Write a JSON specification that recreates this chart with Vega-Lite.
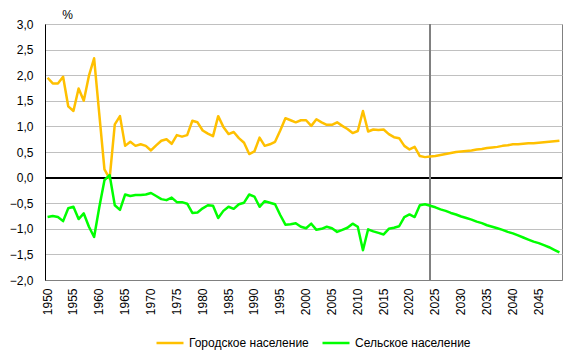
{
  "$schema": "https://vega.github.io/schema/vega-lite/v6.json",
  "autosize": "none",
  "width": 517,
  "height": 256,
  "padding": {"left": 45, "top": 24, "right": 13, "bottom": 77},
  "background": "white",
  "config": {
    "font": "Liberation Sans",
    "view": {"stroke": "#808080", "strokeWidth": 1},
    "axis": {"labelFontSize": 12, "labelColor": "black", "ticks": false},
    "axisX": {"domainColor": "#808080", "grid": false, "labelAngle": -90, "labelAlign": "right", "labelBaseline": "middle", "labelPadding": 8},
    "axisY": {"domainColor": "black", "grid": true, "gridColor": "#c0c0c0", "gridWidth": 1, "labelPadding": 12}
  },
  "data": {
    "values": [
      {"year":1950,"Городское население":1.95,"Сельское население":-0.77},
      {"year":1951,"Городское население":1.84,"Сельское население":-0.75},
      {"year":1952,"Городское население":1.84,"Сельское население":-0.77},
      {"year":1953,"Городское население":1.97,"Сельское население":-0.85},
      {"year":1954,"Городское население":1.39,"Сельское население":-0.60},
      {"year":1955,"Городское население":1.30,"Сельское население":-0.57},
      {"year":1956,"Городское население":1.74,"Сельское население":-0.81},
      {"year":1957,"Городское население":1.50,"Сельское население":-0.70},
      {"year":1958,"Городское население":1.99,"Сельское население":-0.96},
      {"year":1959,"Городское население":2.33,"Сельское население":-1.16},
      {"year":1960,"Городское население":1.24,"Сельское население":-0.58},
      {"year":1961,"Городское население":0.16,"Сельское население":-0.05},
      {"year":1962,"Городское население":-0.02,"Сельское население":0.05},
      {"year":1963,"Городское население":1.04,"Сельское население":-0.54},
      {"year":1964,"Городское население":1.20,"Сельское население":-0.63},
      {"year":1965,"Городское население":0.62,"Сельское население":-0.33},
      {"year":1966,"Городское население":0.70,"Сельское население":-0.36},
      {"year":1967,"Городское население":0.62,"Сельское население":-0.34},
      {"year":1968,"Городское население":0.65,"Сельское население":-0.34},
      {"year":1969,"Городское население":0.62,"Сельское население":-0.33},
      {"year":1970,"Городское население":0.53,"Сельское население":-0.30},
      {"year":1971,"Городское население":0.63,"Сельское население":-0.36},
      {"year":1972,"Городское население":0.72,"Сельское население":-0.42},
      {"year":1973,"Городское население":0.75,"Сельское население":-0.44},
      {"year":1974,"Городское население":0.66,"Сельское население":-0.39},
      {"year":1975,"Городское население":0.83,"Сельское население":-0.48},
      {"year":1976,"Городское население":0.80,"Сельское население":-0.48},
      {"year":1977,"Городское население":0.83,"Сельское население":-0.51},
      {"year":1978,"Городское население":1.11,"Сельское население":-0.69},
      {"year":1979,"Городское население":1.08,"Сельское население":-0.68},
      {"year":1980,"Городское население":0.92,"Сельское население":-0.60},
      {"year":1981,"Городское население":0.86,"Сельское население":-0.54},
      {"year":1982,"Городское население":0.81,"Сельское население":-0.55},
      {"year":1983,"Городское население":1.20,"Сельское население":-0.79},
      {"year":1984,"Городское население":0.99,"Сельское население":-0.65},
      {"year":1985,"Городское население":0.85,"Сельское население":-0.57},
      {"year":1986,"Городское население":0.89,"Сельское население":-0.61},
      {"year":1987,"Городское население":0.77,"Сельское население":-0.52},
      {"year":1988,"Городское население":0.68,"Сельское население":-0.49},
      {"year":1989,"Городское население":0.46,"Сельское население":-0.33},
      {"year":1990,"Городское население":0.51,"Сельское население":-0.37},
      {"year":1991,"Городское население":0.78,"Сельское население":-0.57},
      {"year":1992,"Городское население":0.62,"Сельское население":-0.46},
      {"year":1993,"Городское население":0.65,"Сельское население":-0.49},
      {"year":1994,"Городское население":0.70,"Сельское население":-0.52},
      {"year":1995,"Городское население":0.92,"Сельское население":-0.73},
      {"year":1996,"Городское население":1.16,"Сельское население":-0.92},
      {"year":1997,"Городское население":1.12,"Сельское население":-0.91},
      {"year":1998,"Городское население":1.08,"Сельское население":-0.89},
      {"year":1999,"Городское население":1.12,"Сельское население":-0.96},
      {"year":2000,"Городское население":1.12,"Сельское население":-0.99},
      {"year":2001,"Городское население":1.01,"Сельское население":-0.90},
      {"year":2002,"Городское население":1.14,"Сельское население":-1.02},
      {"year":2003,"Городское население":1.08,"Сельское население":-1.00},
      {"year":2004,"Городское население":1.03,"Сельское население":-0.96},
      {"year":2005,"Городское население":1.03,"Сельское население":-0.99},
      {"year":2006,"Городское население":1.08,"Сельское население":-1.06},
      {"year":2007,"Городское население":1.01,"Сельское население":-1.02},
      {"year":2008,"Городское население":0.95,"Сельское население":-0.98},
      {"year":2009,"Городское население":0.87,"Сельское население":-0.90},
      {"year":2010,"Городское население":0.91,"Сельское население":-0.96},
      {"year":2011,"Городское население":1.30,"Сельское население":-1.42},
      {"year":2012,"Городское население":0.90,"Сельское население":-1.01},
      {"year":2013,"Городское население":0.94,"Сельское население":-1.05},
      {"year":2014,"Городское население":0.93,"Сельское население":-1.08},
      {"year":2015,"Городское население":0.94,"Сельское население":-1.11},
      {"year":2016,"Городское население":0.85,"Сельское население":-1.00},
      {"year":2017,"Городское население":0.79,"Сельское население":-0.98},
      {"year":2018,"Городское население":0.77,"Сельское население":-0.95},
      {"year":2019,"Городское население":0.62,"Сельское население":-0.77},
      {"year":2020,"Городское население":0.55,"Сельское население":-0.72},
      {"year":2021,"Городское население":0.60,"Сельское население":-0.77},
      {"year":2022,"Городское население":0.42,"Сельское население":-0.54},
      {"year":2023,"Городское население":0.40,"Сельское население":-0.52},
      {"year":2024,"Городское население":0.41,"Сельское население":-0.55},
      {"year":2025,"Городское население":0.42,"Сельское население":-0.58},
      {"year":2026,"Городское население":0.44,"Сельское население":-0.62},
      {"year":2027,"Городское население":0.46,"Сельское население":-0.65},
      {"year":2028,"Городское население":0.48,"Сельское население":-0.69},
      {"year":2029,"Городское население":0.50,"Сельское население":-0.72},
      {"year":2030,"Городское население":0.51,"Сельское население":-0.76},
      {"year":2031,"Городское население":0.52,"Сельское население":-0.79},
      {"year":2032,"Городское население":0.53,"Сельское население":-0.82},
      {"year":2033,"Городское население":0.55,"Сельское население":-0.86},
      {"year":2034,"Городское население":0.56,"Сельское население":-0.89},
      {"year":2035,"Городское население":0.58,"Сельское население":-0.93},
      {"year":2036,"Городское население":0.59,"Сельское население":-0.96},
      {"year":2037,"Городское население":0.60,"Сельское население":-0.99},
      {"year":2038,"Городское население":0.62,"Сельское население":-1.02},
      {"year":2039,"Городское население":0.63,"Сельское население":-1.06},
      {"year":2040,"Городское население":0.65,"Сельское население":-1.09},
      {"year":2041,"Городское население":0.65,"Сельское население":-1.13},
      {"year":2042,"Городское население":0.66,"Сельское население":-1.17},
      {"year":2043,"Городское население":0.67,"Сельское население":-1.21},
      {"year":2044,"Городское население":0.67,"Сельское население":-1.25},
      {"year":2045,"Городское население":0.68,"Сельское население":-1.28},
      {"year":2046,"Городское население":0.69,"Сельское население":-1.32},
      {"year":2047,"Городское население":0.70,"Сельское население":-1.36},
      {"year":2048,"Городское население":0.71,"Сельское население":-1.41},
      {"year":2049,"Городское население":0.72,"Сельское население":-1.46}
    ]
  },
  "layer": [
    {
      "mark": {"type": "rule", "color": "black", "strokeWidth": 1},
      "encoding": {
        "y": {
          "datum": 0,
          "type": "quantitative",
          "scale": {"domain": [-2, 3], "nice": false, "zero": false},
          "axis": {
            "title": "%",
            "titleAngle": 0,
            "titleX": 22,
            "titleY": -10,
            "titleAlign": "center",
            "titleBaseline": "middle",
            "titleFontSize": 12,
            "titleFontWeight": "normal",
            "titleColor": "black",
            "values": [-2, -1.5, -1, -0.5, 0, 0.5, 1, 1.5, 2, 2.5, 3],
            "labelExpr": "replace(format(datum.value, '.1f'), '.', ',')"
          }
        }
      }
    },
    {
      "mark": {"type": "rule", "color": "#808080", "strokeWidth": 1},
      "encoding": {
        "x": {
          "datum": 2024,
          "type": "ordinal",
          "scale": {"type": "band", "paddingInner": 0, "paddingOuter": 0},
          "axis": {
            "title": null,
            "values": [1950,1955,1960,1965,1970,1975,1980,1985,1990,1995,2000,2005,2010,2015,2020,2025,2030,2035,2040,2045]
          }
        }
      }
    },
    {
      "transform": [
        {"fold": ["Городское население", "Сельское население"], "as": ["series", "value"]}
      ],
      "mark": {"type": "line", "strokeWidth": 2.5, "strokeJoin": "round"},
      "encoding": {
        "x": {
          "field": "year",
          "type": "ordinal",
          "scale": {"type": "band", "paddingInner": 0, "paddingOuter": 0},
          "axis": {
            "title": null,
            "values": [1950,1955,1960,1965,1970,1975,1980,1985,1990,1995,2000,2005,2010,2015,2020,2025,2030,2035,2040,2045]
          }
        },
        "y": {
          "field": "value",
          "type": "quantitative",
          "scale": {"domain": [-2, 3], "nice": false, "zero": false},
          "axis": {
            "title": "%",
            "titleAngle": 0,
            "titleX": 22,
            "titleY": -10,
            "titleAlign": "center",
            "titleBaseline": "middle",
            "titleFontSize": 12,
            "titleFontWeight": "normal",
            "titleColor": "black",
            "values": [-2, -1.5, -1, -0.5, 0, 0.5, 1, 1.5, 2, 2.5, 3],
            "labelExpr": "replace(format(datum.value, '.1f'), '.', ',')"
          }
        },
        "color": {
          "field": "series",
          "type": "nominal",
          "scale": {
            "domain": ["Городское население", "Сельское население"],
            "range": ["#FFC000", "#00FF00"]
          },
          "legend": {
            "title": null,
            "orient": "none",
            "direction": "horizontal",
            "legendX": 110,
            "legendY": 304,
            "symbolType": "stroke",
            "symbolSize": 729,
            "symbolStrokeWidth": 2.5,
            "labelFontSize": 12,
            "labelColor": "black",
            "labelOffset": 4,
            "columnPadding": 8
          }
        }
      }
    }
  ]
}
